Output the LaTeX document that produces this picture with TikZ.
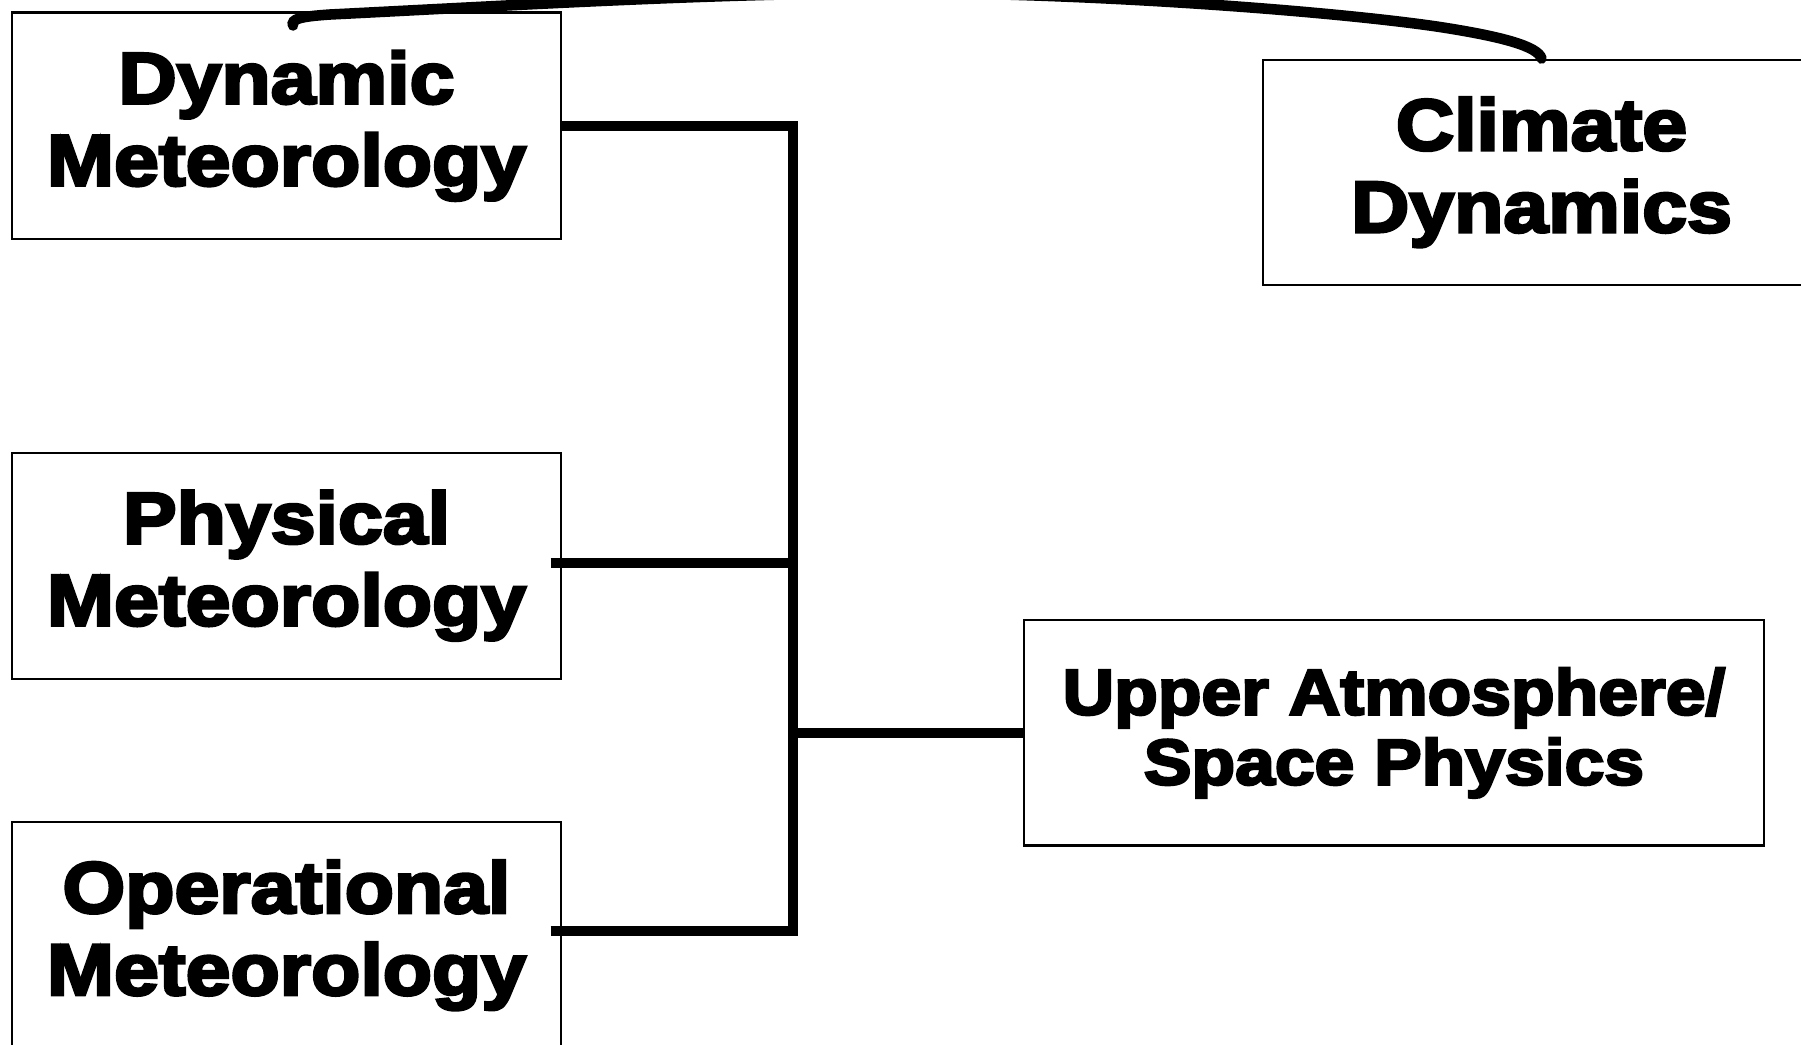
\documentclass[tikz,border=0pt]{standalone}
\usepackage{fontspec}
\setmainfont{Liberation Sans}
\newfontfamily\boxfont{Liberation Sans}[FakeStretch=1.11, BoldFeatures={FakeBold=4}]
\usetikzlibrary{calc}
\begin{document}
\begin{tikzpicture}[x=0.01cm, y=-0.01cm,
  box/.style={draw, line width=0.6pt, align=center, inner sep=0pt,
    font=\boxfont\bfseries\fontsize{20.65}{23.33}\selectfont},
  smallbox/.style={box, font=\boxfont\bfseries\fontsize{18.3}{19.9}\selectfont},
  conn/.style={line width=2.8pt},
  curvy/.style={line width=3pt, line cap=round}]
\useasboundingbox (0,0) rectangle (1801,1044);
\node[box, minimum width=5.48cm, minimum height=2.264cm] (dyn) at (286.5,125.8) {Dynamic\\Meteorology};
\node[box, minimum width=5.48cm, minimum height=2.262cm] (phys) at (286.5,565.7) {Physical\\Meteorology};
\node[box, minimum width=5.48cm, minimum height=2.262cm] (oper) at (286.5,935.2) {Operational\\Meteorology};
\node[box, minimum width=5.56cm, minimum height=2.252cm] (clim) at (1541.5,172.3) {Climate\\Dynamics};
\node[smallbox, minimum width=7.39cm, minimum height=2.252cm] (upper) at (1394,732.8) {Upper Atmosphere/\\Space Physics};
\coordinate (bus) at (793,732.8);
\draw[conn] (dyn.east) -| (bus);
\draw[conn] ($(phys.east)+(-11,-3)$) -| (bus);
\draw[conn] ($(oper.east)+(-11,-4)$) -| (bus);
\draw[conn] (bus) -- (upper.west);
\draw[curvy] ($(dyn.north)+(6.5,14)$) .. controls (291,19) and (300,16.5) .. (330,14.5)
  .. controls (520,5) and (720,-7) .. (900,-7)
  .. controls (1100,-7) and (1340,12) .. (1440,27)
  .. controls (1500,36.3) and (1538,46) .. (clim.north);
\end{tikzpicture}
\end{document}
